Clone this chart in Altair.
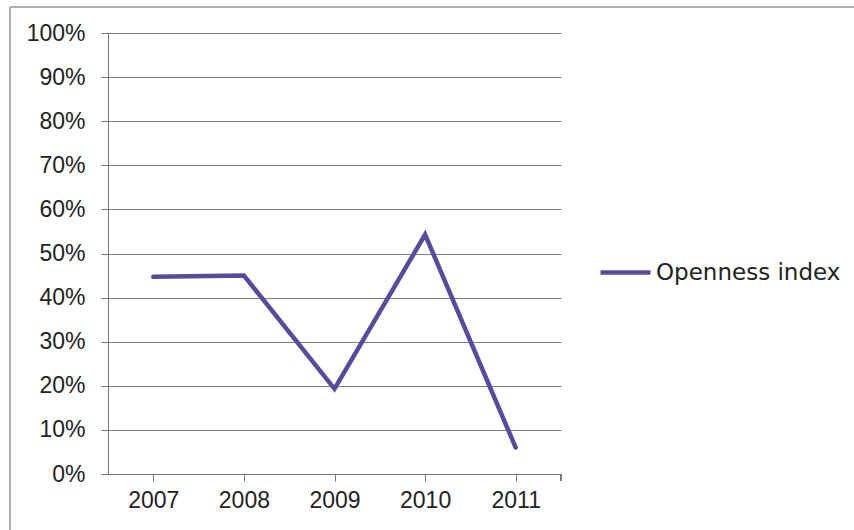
import altair as alt
import pandas as pd

years = ["2007", "2008", "2009", "2010", "2011"]
openness = [0.447, 0.450, 0.193, 0.543, 0.060]
series_name = ["Openness index"] * 5

df = pd.DataFrame({"year": years, "value": openness, "series": series_name})

W, H = 453, 441
LEFT, TOP = 108, 33
FONT = "Liberation Sans"

line = alt.Chart(df).mark_line(strokeWidth=4.5, strokeCap="round", strokeJoin="miter").encode(
    x=alt.X("year:O", sort=years,
            scale=alt.Scale(paddingInner=0, paddingOuter=0),
            axis=alt.Axis(title=None, labelAngle=0, bandPosition=0, ticks=True, tickSize=7,
                          tickColor="#777777", domainColor="#777777", labelPadding=8,
                          labelFont=FONT, labelFontSize=23, labelColor="#222222", grid=False)),
    y=alt.Y("value:Q", scale=alt.Scale(domain=[0, 1], nice=False),
            axis=alt.Axis(title=None, format="%", values=[i / 10 for i in range(11)],
                          tickSize=7, tickColor="#777777", domainColor="#777777",
                          gridColor="#808080", gridWidth=1.2, gridOpacity=1,
                          labelPadding=16, labelFont=FONT, labelFontSize=23, labelColor="#222222")),
    color=alt.Color("series:N", scale=alt.Scale(range=["#5a4a9e"]),
                    legend=alt.Legend(title=None, orient="none", legendX=490, legendY=212,
                                      symbolType="stroke", symbolSize=2500, symbolStrokeWidth=4.5,
                                      labelFont="DejaVu Sans", labelFontSize=23, labelColor="#222222",
                                      labelOffset=3, labelLimit=400)),
)

end_tick = alt.Chart(df).mark_rule(color="#777777", strokeWidth=1).encode(
    x=alt.value(W), y=alt.value(H), y2=alt.value(H + 7)
)

border_left = alt.Chart(df).mark_rule(color="#b0b0b0", strokeWidth=1.5).encode(
    x=alt.value(10 - LEFT), y=alt.value(7 - TOP), y2=alt.value(530 - TOP)
)
border_top = alt.Chart(df).mark_rule(color="#b0b0b0", strokeWidth=1.5).encode(
    x=alt.value(10 - LEFT), x2=alt.value(854 - LEFT), y=alt.value(7 - TOP)
)

chart = alt.layer(border_left, border_top, line, end_tick).properties(
    width=W, height=H,
    autosize=alt.AutoSizeParams(type="none"),
    padding={"left": LEFT, "top": TOP, "right": 854 - LEFT - W, "bottom": 530 - TOP - H},
    background="white",
).configure_view(stroke=None)

chart.save("out.html", embed_options={"renderer": "svg", "actions": False})
